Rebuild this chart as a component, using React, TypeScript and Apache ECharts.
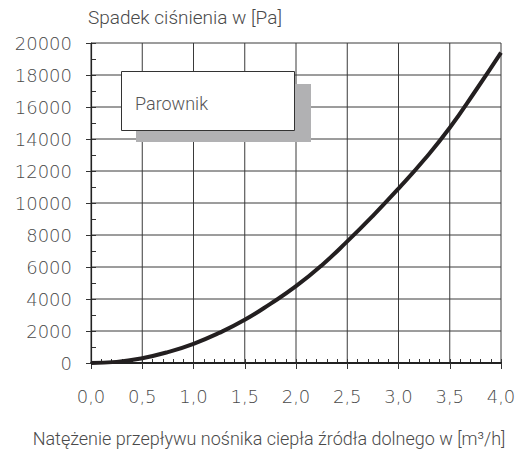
import React, { useEffect, useRef } from "react";
import * as echarts from "echarts";

// Flow rate of the lower heat source medium [m³/h]
const flowRates = [0, 0.25, 0.5, 0.75, 1.0, 1.25, 1.5, 1.75, 2.0, 2.25, 2.5, 2.75, 3.0, 3.25, 3.5, 3.75, 4.0];
// Pressure drop [Pa] – "Parownik"
const pressureDrop = [0, 70, 300, 680, 1200, 1880, 2700, 3700, 4800, 6100, 7600, 9200, 10900, 12700, 14700, 17000, 19400];

// Grid line positions (major ticks)
const xGridTicks = [0, 0.5, 1.0, 1.5, 2.0, 2.5, 3.0, 3.5, 4.0];
const yGridTicks = [0, 2000, 4000, 6000, 8000, 10000, 12000, 14000, 16000, 18000, 20000];

const seriesName = "Parownik";
const yTitle = "Spadek ciśnienia w [Pa]";
const xTitle = "Natężenie przepływu nośnika ciepła źródła dolnego w [m³/h]";

const TICK_FONT = "DejaVu Sans";
const TITLE_FONT = "Roboto";
const TEXT_COLOR = "#4a4a4a";
const GRID_COLOR = "#3a3a3a";

export default function App() {
  const ref = useRef<HTMLDivElement>(null);

  useEffect(() => {
    if (!ref.current) return;
    const chart = echarts.init(ref.current, undefined, { renderer: "svg" });
    const data = flowRates.map((x, i) => [x, pressureDrop[i]]);

    const labelStyle = {
      fontFamily: TICK_FONT,
      fontWeight: 200 as any,
      fontSize: 18,
      color: TEXT_COLOR,
    };

    const xMin = 0, xMax = 4, yMin = 0, yMax = 20000;

    const gridSeriesBase = {
      type: "line",
      xAxisIndex: 0,
      yAxisIndex: 0,
      silent: true,
      showSymbol: false,
      symbol: "none",
      clip: false,
      z: 5,
      lineStyle: { color: GRID_COLOR, width: 1 },
      emphasis: { disabled: true },
      tooltip: { show: false },
    };

    const gridSeries = [
      ...xGridTicks.map((v) => ({
        ...gridSeriesBase,
        data: [[v, yMin], [v, yMax]],
      })),
      ...yGridTicks.map((v) => ({
        ...gridSeriesBase,
        data: [[xMin, v], [xMax, v]],
      })),
    ];

    chart.setOption({
      animation: false,
      backgroundColor: "#ffffff",
      grid: { show: false, left: 91, top: 43, right: 20, bottom: 89, containLabel: false },
      xAxis: [
        {
          type: "value",
          min: xMin,
          max: xMax,
          interval: 0.5,
          z: 8,
          axisLine: { show: true, onZero: false, lineStyle: { color: "#222", width: 2 } },
          axisTick: { show: true, inside: false, length: 6, lineStyle: { color: "#333", width: 1 } },
          axisLabel: {
            ...labelStyle,
            margin: 24,
            formatter: (v: number) => v.toFixed(1).replace(".", ","),
          },
          splitLine: { show: false },
          splitArea: { show: false },
        },
        {
          type: "value",
          min: xMin,
          max: xMax,
          interval: 0.1,
          position: "bottom",
          axisLine: { show: false },
          axisTick: { show: true, inside: true, length: 4, lineStyle: { color: "#333", width: 1 } },
          axisLabel: { show: false },
          splitLine: { show: false },
          splitArea: { show: false },
        },
      ],
      yAxis: [
        {
          type: "value",
          min: yMin,
          max: yMax,
          interval: 2000,
          z: 8,
          axisLine: { show: true, onZero: false, lineStyle: { color: "#222", width: 1.2 } },
          axisTick: { show: true, inside: false, length: 5, lineStyle: { color: "#333", width: 1 } },
          axisLabel: { ...labelStyle, margin: 19, formatter: (v: number) => String(v) },
          splitLine: { show: false },
          splitArea: { show: false },
        },
        {
          type: "value",
          min: yMin,
          max: yMax,
          interval: 1000,
          position: "left",
          axisLine: { show: false },
          axisTick: { show: true, inside: true, length: 5, lineStyle: { color: "#333", width: 1 } },
          axisLabel: { show: false },
          splitLine: { show: false },
          splitArea: { show: false },
        },
      ],
      series: [
        ...gridSeries,
        {
          name: seriesName,
          type: "line",
          xAxisIndex: 0,
          yAxisIndex: 0,
          data,
          smooth: true,
          showSymbol: false,
          symbol: "none",
          lineStyle: { color: "#231f20", width: 4 },
          z: 10,
        },
      ],
      graphic: [
        {
          type: "text",
          left: 88,
          top: 8,
          style: { text: yTitle, fontFamily: TITLE_FONT, fontWeight: 300, fontSize: 19, fill: TEXT_COLOR },
        },
        {
          type: "text",
          x: 269,
          y: 438,
          style: {
            text: xTitle,
            fontFamily: TITLE_FONT,
            fontWeight: 300,
            fontSize: 18,
            fill: TEXT_COLOR,
            align: "center",
            verticalAlign: "middle",
          },
        },
        {
          type: "rect",
          z: 100,
          shape: { x: 136, y: 84, width: 175, height: 58 },
          style: { fill: "#b1b1b3" },
        },
        {
          type: "rect",
          z: 101,
          shape: { x: 121.5, y: 71.5, width: 173, height: 59 },
          style: { fill: "#ffffff", stroke: "#333", lineWidth: 1 },
        },
        {
          type: "text",
          z: 102,
          x: 135,
          y: 103,
          style: {
            text: seriesName,
            fontFamily: TITLE_FONT,
            fontWeight: 300,
            fontSize: 18,
            fill: "#555",
            verticalAlign: "middle",
          },
        },
      ],
    });

    return () => chart.dispose();
  }, []);

  return (
    <div
      ref={ref}
      style={{ position: "absolute", left: 0, top: 0, width: 521, height: 452 }}
    />
  );
}
